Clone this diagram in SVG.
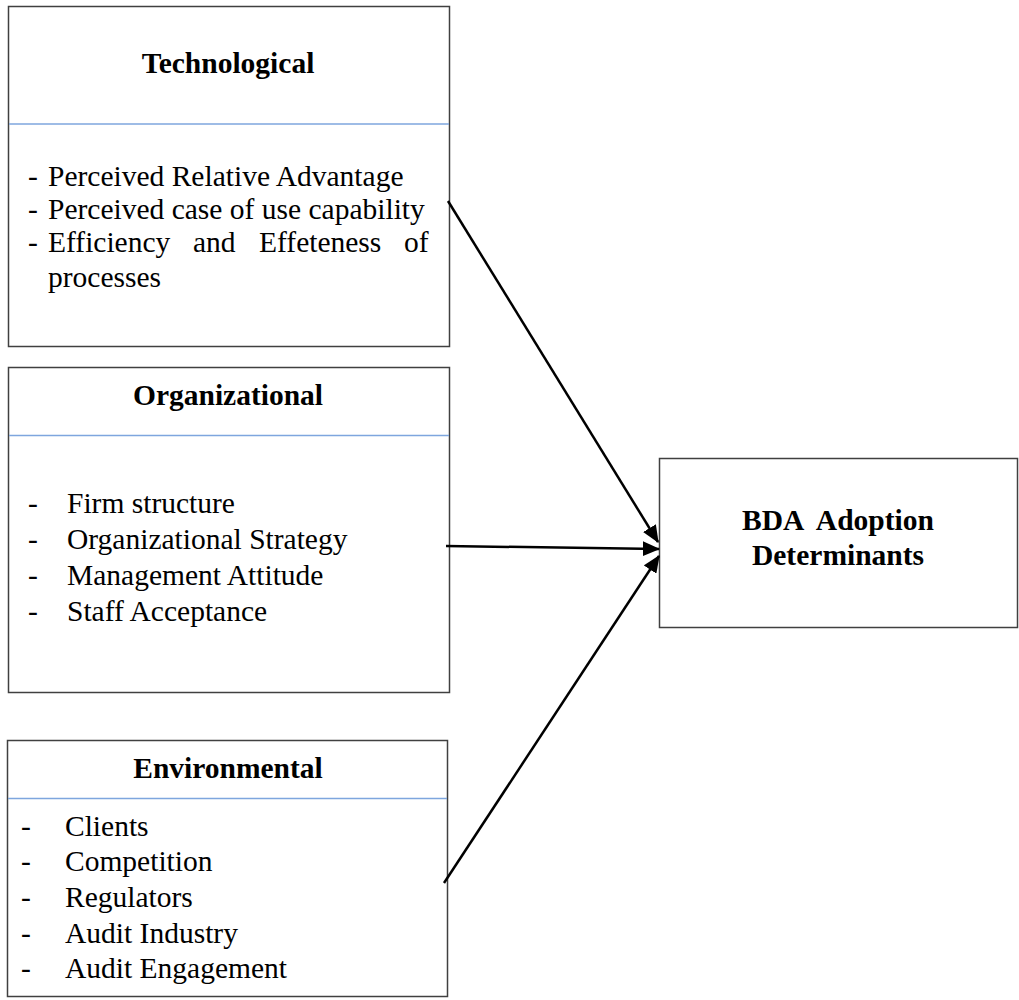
<svg xmlns="http://www.w3.org/2000/svg" width="1019" height="1000" viewBox="0 0 1019 1000">
<style>
.box{fill:#fff;stroke:#404040;stroke-width:1.5}
.div{stroke:#7ea6de;stroke-width:1.5}
.t{font-family:"Liberation Serif","Times New Roman",serif;font-size:29.5px;fill:#000}
.b{font-weight:bold;text-anchor:middle}
.conn{stroke:#000;stroke-width:2.5;fill:none}
</style>
<defs>
<marker id="ah" markerWidth="7" markerHeight="6" refX="6.5" refY="3" orient="auto" markerUnits="strokeWidth">
<path d="M0,0 L7,3 L0,6 Z" fill="#000"/>
</marker>
</defs>
<rect width="1019" height="1000" fill="#fff"/>
<g id="technological">
<rect class="box" x="8.5" y="6.5" width="441" height="340"/>
<line class="div" x1="9" y1="124" x2="449" y2="124"/>
<text class="t b" x="228" y="73">Technological</text>
<text class="t" x="28" y="186">- <tspan x="48">Perceived Relative Advantage</tspan></text>
<text class="t" x="28" y="219">- <tspan x="48">Perceived case of use capability</tspan></text>
<text class="t" x="28" y="252">- <tspan x="48">Efficiency</tspan><tspan x="193">and</tspan><tspan x="259">Effeteness</tspan><tspan x="404">of</tspan></text>
<text class="t" x="48" y="287">processes</text>
</g>
<g id="organizational">
<rect class="box" x="8.5" y="367.5" width="441" height="325"/>
<line class="div" x1="9" y1="435.5" x2="449" y2="435.5"/>
<text class="t b" x="228" y="405">Organizational</text>
<text class="t" x="28" y="513">-<tspan x="67">Firm structure</tspan></text>
<text class="t" x="28" y="549">-<tspan x="67">Organizational Strategy</tspan></text>
<text class="t" x="28" y="585">-<tspan x="67">Management Attitude</tspan></text>
<text class="t" x="28" y="621">-<tspan x="67">Staff Acceptance</tspan></text>
</g>
<g id="environmental">
<rect class="box" x="7.5" y="740.5" width="440" height="256"/>
<line class="div" x1="8" y1="798.5" x2="447" y2="798.5"/>
<text class="t b" x="228" y="778">Environmental</text>
<text class="t" x="21" y="836">-<tspan x="65">Clients</tspan></text>
<text class="t" x="21" y="871">-<tspan x="65">Competition</tspan></text>
<text class="t" x="21" y="907">-<tspan x="65">Regulators</tspan></text>
<text class="t" x="21" y="943">-<tspan x="65">Audit Industry</tspan></text>
<text class="t" x="21" y="978">-<tspan x="65">Audit Engagement</tspan></text>
</g>
<g id="bda">
<rect class="box" x="659.5" y="458.5" width="358" height="169"/>
<text class="t b" x="838" y="530" xml:space="preserve">BDA  Adoption</text>
<text class="t b" x="838" y="565">Determinants</text>
</g>
<g id="connectors">
<line class="conn" x1="448" y1="201" x2="658" y2="542" marker-end="url(#ah)"/>
<line class="conn" x1="446" y1="546" x2="659" y2="549" marker-end="url(#ah)"/>
<line class="conn" x1="444" y1="883" x2="659" y2="556" marker-end="url(#ah)"/>
</g>
</svg>
